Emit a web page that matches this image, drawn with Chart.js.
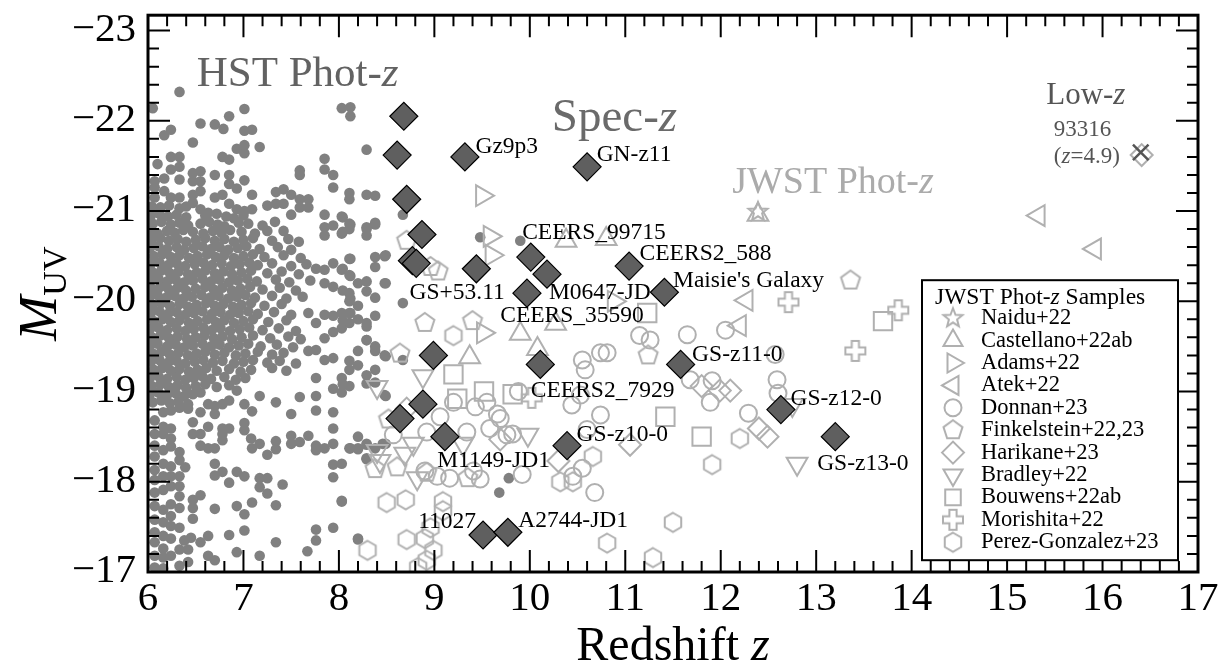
<!DOCTYPE html>
<html>
<head>
<meta charset="utf-8">
<script src="https://cdn.jsdelivr.net/npm/chart.js@4.4.0/dist/chart.umd.min.js"></script>
<style>
  html, body { margin: 0; padding: 0; background: #fff; }
  #wrap { width: 1226px; height: 670px; }
</style>
</head>
<body>
<div id="wrap"><canvas id="muvChart" width="1226" height="670"></canvas></div>
<script>
// ---------- axis ticks ----------
const xTicks = [6, 7, 8, 9, 10, 11, 12, 13, 14, 15, 16, 17];
const yTicks = [-23, -22, -21, -20, -19, -18, -17];

// ---------- HST photometric-z (grey dots) ----------
const hstPhotz = [
  [6.33,-22.32],[6.05,-22.14],[7.01,-22.13],[6.85,-22.05],[8.03,-22.14],[8.12,-22.15],[8.12,-22.05],[6.55,-21.97],[6.70,-21.96],
  [6.79,-21.91],[6.24,-21.90],[6.17,-21.84],[7.01,-21.89],[7.09,-21.90],[6.47,-21.76],[7.17,-21.71],[6.93,-21.69],[7.01,-21.73],
  [7.01,-21.64],[8.29,-21.68],[6.78,-21.60],[6.85,-21.57],[6.24,-21.60],[6.33,-21.60],[6.10,-21.52],[6.33,-21.49],[6.24,-21.46],
  [7.85,-21.58],[7.85,-21.46],[7.94,-21.40],[7.94,-21.26],[7.59,-21.45],[7.59,-21.40],[6.47,-21.42],[6.55,-21.44],[6.70,-21.40],
  [6.85,-21.40],[6.47,-21.33],[6.55,-21.33],[7.01,-21.34],[6.17,-21.36],[6.07,-21.33],[6.33,-21.35],[6.85,-21.30],[6.93,-21.25],
  [6.07,-21.26],[6.17,-21.22],[6.47,-21.18],[6.55,-21.22],[6.78,-21.18],[6.70,-21.15],[7.09,-21.18],[6.24,-21.15],[6.33,-21.15],
  [6.07,-21.15],[7.34,-21.21],[7.42,-21.24],[7.50,-21.18],[7.59,-21.13],[7.68,-21.13],[7.59,-21.04],[7.68,-21.04],[8.11,-21.20],
  [8.11,-21.13],[8.29,-21.18],[8.38,-21.17],[6.47,-21.09],[6.55,-21.02],[6.63,-20.98],[6.85,-21.08],[6.93,-21.02],[7.01,-21.00],
  [7.09,-21.02],[7.25,-21.06],[7.34,-21.08],[7.42,-21.08],[7.50,-20.96],[7.85,-20.96],[8.03,-20.94],[8.38,-20.87],[8.11,-20.86],
  [8.11,-20.80],[8.29,-20.82],[8.29,-20.73],[7.85,-20.82],[7.94,-20.84],[7.85,-20.73],[8.03,-20.75],[6.13,-21.04],[6.22,-21.06],
  [6.33,-21.03],[6.40,-21.05],[6.04,-21.05],
  [8.38,-20.49],[8.49,-20.51],[8.38,-20.38],[8.11,-20.47],[7.94,-20.42],[7.85,-20.35],[7.76,-20.36],[8.03,-20.35],[8.11,-20.29],
  [8.20,-20.20],[8.29,-20.11],[8.38,-20.04],[8.11,-20.09],[8.11,-20.00],[8.49,-20.20],[7.85,-20.20],[7.94,-20.16],[7.85,-19.85],
  [7.94,-19.84],[8.03,-19.87],[8.11,-19.87],[8.11,-19.76],[8.20,-19.80],[8.29,-19.76],[8.38,-19.84],[7.76,-19.76],
  [8.04,-20.93],[8.12,-20.85],[8.04,-20.77],[8.29,-20.80],[8.38,-20.85],[8.48,-20.50],[8.12,-20.47],[8.04,-20.36],[8.12,-20.28],
  [8.29,-20.22],[8.48,-20.20],[8.04,-20.12],[8.12,-20.03],[8.20,-19.95],[8.12,-19.87],[8.04,-19.79],[8.67,-19.98],[8.29,-19.57],
  [8.38,-19.45],[8.48,-19.40],[8.20,-19.29],[8.29,-19.18],[8.04,-19.08],[8.38,-19.10],[8.48,-18.96],[8.67,-20.96],[8.67,-19.35],
  [9.48,-20.71],[9.90,-20.67],[9.78,-18.04],[9.68,-17.88],[8.20,-17.37],[8.03,-17.79],[8.12,-18.37],[8.20,-18.37],[8.29,-18.41],
  [8.46,-18.42],[8.29,-18.25],
  // dense core
  [6.03,-20.95],[6.12,-20.97],[6.21,-20.94],[6.30,-20.96],[6.40,-20.93],[6.60,-20.95],[6.72,-20.97],[6.82,-20.94],[6.90,-20.92],[7.00,-20.95],
  [6.05,-20.86],[6.14,-20.88],[6.24,-20.85],[6.33,-20.87],[6.42,-20.84],[6.55,-20.86],[6.64,-20.88],[6.73,-20.85],[6.80,-20.83],[6.95,-20.87],[7.05,-20.86],[7.20,-20.84],[7.33,-20.88],
  [6.02,-20.77],[6.10,-20.75],[6.20,-20.78],[6.28,-20.76],[6.37,-20.79],[6.47,-20.77],[6.58,-20.75],[6.68,-20.78],[6.77,-20.76],[6.86,-20.79],[6.98,-20.77],[7.12,-20.75],[7.25,-20.78],[7.42,-20.78],
  [6.04,-20.68],[6.13,-20.70],[6.22,-20.67],[6.31,-20.69],[6.40,-20.66],[6.50,-20.68],[6.60,-20.70],[6.70,-20.67],[6.80,-20.69],[6.90,-20.66],[7.00,-20.68],[7.10,-20.70],[7.30,-20.67],[7.47,-20.69],[7.58,-20.66],
  [6.02,-20.59],[6.11,-20.61],[6.20,-20.58],[6.30,-20.60],[6.38,-20.57],[6.48,-20.59],[6.57,-20.61],[6.66,-20.58],[6.75,-20.60],[6.84,-20.57],[6.94,-20.59],[7.03,-20.61],[7.17,-20.58],[7.36,-20.60],[7.50,-20.57],
  [6.06,-20.50],[6.15,-20.52],[6.24,-20.49],[6.33,-20.51],[6.43,-20.48],[6.52,-20.50],[6.62,-20.52],[6.71,-20.49],[6.80,-20.51],[6.90,-20.48],[7.00,-20.50],[7.10,-20.52],[7.22,-20.49],[7.42,-20.51],[7.60,-20.48],
  [6.03,-20.41],[6.12,-20.43],[6.21,-20.40],[6.30,-20.42],[6.39,-20.39],[6.49,-20.41],[6.58,-20.43],[6.67,-20.40],[6.77,-20.42],[6.87,-20.39],[6.96,-20.41],[7.06,-20.43],[7.15,-20.40],[7.30,-20.42],[7.50,-20.39],[7.66,-20.41],
  [6.05,-20.32],[6.14,-20.34],[6.23,-20.31],[6.32,-20.33],[6.42,-20.30],[6.51,-20.32],[6.60,-20.34],[6.70,-20.31],[6.79,-20.33],[6.88,-20.30],[6.98,-20.32],[7.08,-20.34],[7.25,-20.31],[7.40,-20.33],[7.58,-20.30],
  [6.02,-20.23],[6.11,-20.25],[6.20,-20.22],[6.29,-20.24],[6.38,-20.21],[6.47,-20.23],[6.57,-20.25],[6.66,-20.22],[6.75,-20.24],[6.85,-20.21],[6.94,-20.23],[7.04,-20.25],[7.14,-20.22],[7.34,-20.24],[7.48,-20.21],[7.70,-20.23],
  [6.04,-20.14],[6.13,-20.16],[6.22,-20.13],[6.31,-20.15],[6.40,-20.12],[6.50,-20.14],[6.60,-20.16],[6.69,-20.13],[6.78,-20.15],[6.88,-20.12],[6.97,-20.14],[7.07,-20.16],[7.20,-20.13],[7.38,-20.15],[7.55,-20.12],
  [6.02,-20.05],[6.10,-20.07],[6.19,-20.04],[6.28,-20.06],[6.37,-20.03],[6.46,-20.05],[6.56,-20.07],[6.65,-20.04],[6.74,-20.06],[6.84,-20.03],[6.93,-20.05],[7.02,-20.07],[7.12,-20.04],[7.30,-20.06],[7.45,-20.03],[7.62,-20.05],
  [6.05,-19.96],[6.14,-19.98],[6.23,-19.95],[6.33,-19.97],[6.42,-19.94],[6.51,-19.96],[6.61,-19.98],[6.70,-19.95],[6.79,-19.97],[6.89,-19.94],[6.98,-19.96],[7.08,-19.98],[7.22,-19.95],[7.40,-19.97],
  [6.03,-19.87],[6.12,-19.89],[6.21,-19.86],[6.30,-19.88],[6.39,-19.85],[6.48,-19.87],[6.57,-19.89],[6.67,-19.86],[6.76,-19.88],[6.86,-19.85],[6.95,-19.87],[7.05,-19.89],[7.15,-19.86],[7.32,-19.88],[7.50,-19.85],[7.68,-19.87],
  [6.06,-19.78],[6.15,-19.80],[6.24,-19.77],[6.33,-19.79],[6.43,-19.76],[6.52,-19.78],[6.62,-19.80],[6.71,-19.77],[6.80,-19.79],[6.90,-19.76],[7.00,-19.78],[7.10,-19.80],[7.26,-19.77],[7.45,-19.79],
  [6.02,-19.69],[6.11,-19.71],[6.20,-19.68],[6.30,-19.70],[6.39,-19.67],[6.48,-19.69],[6.58,-19.71],[6.67,-19.68],[6.76,-19.70],[6.86,-19.67],[6.96,-19.69],[7.06,-19.71],[7.20,-19.68],[7.37,-19.70],[7.55,-19.67],
  [6.04,-19.60],[6.13,-19.62],[6.22,-19.59],[6.31,-19.61],[6.41,-19.58],[6.50,-19.60],[6.59,-19.62],[6.69,-19.59],[6.78,-19.61],[6.88,-19.58],[6.98,-19.60],[7.10,-19.62],[7.28,-19.59],[7.47,-19.61],[7.60,-19.58],
  [6.02,-19.51],[6.10,-19.53],[6.20,-19.50],[6.29,-19.52],[6.38,-19.49],[6.47,-19.51],[6.57,-19.53],[6.66,-19.50],[6.75,-19.52],[6.85,-19.49],[6.95,-19.51],[7.05,-19.53],[7.18,-19.50],[7.35,-19.52],[7.52,-19.49],
  [6.05,-19.42],[6.14,-19.44],[6.23,-19.41],[6.32,-19.43],[6.42,-19.40],[6.51,-19.42],[6.60,-19.44],[6.70,-19.41],[6.80,-19.43],[6.92,-19.40],[7.02,-19.42],[7.15,-19.44],[7.30,-19.41],[7.42,-19.43],
  [6.03,-19.33],[6.12,-19.35],[6.21,-19.32],[6.30,-19.34],[6.39,-19.31],[6.49,-19.33],[6.58,-19.35],[6.68,-19.32],[6.78,-19.34],[6.90,-19.31],[7.00,-19.33],[7.10,-19.35],[7.25,-19.32],[7.38,-19.34],[7.55,-19.31],
  [6.06,-19.24],[6.15,-19.26],[6.24,-19.23],[6.33,-19.25],[6.43,-19.22],[6.52,-19.24],[6.61,-19.26],[6.72,-19.23],[6.85,-19.25],[6.97,-19.22],[7.08,-19.24],[7.30,-19.26],[7.45,-19.23],
  [6.02,-19.15],[6.11,-19.17],[6.20,-19.14],[6.30,-19.16],[6.39,-19.13],[6.48,-19.15],[6.57,-19.17],[6.66,-19.14],[6.80,-19.16],[6.92,-19.13],[7.02,-19.15],
  [6.04,-19.06],[6.13,-19.08],[6.22,-19.05],[6.31,-19.07],[6.40,-19.04],[6.50,-19.06],[6.60,-19.08],[6.72,-19.05],[6.85,-19.07],
  [6.02,-18.97],[6.11,-18.99],[6.20,-18.96],[6.29,-18.98],[6.38,-18.95],[6.47,-18.97],[6.55,-18.99],
  [6.05,-18.88],[6.14,-18.90],[6.23,-18.87],[6.32,-18.89],[6.42,-18.86],
  // lower half
  [6.93,-19.01],[7.17,-18.95],[7.34,-18.88],[7.59,-18.94],[7.76,-18.95],[7.76,-19.15],[7.94,-19.03],[8.03,-18.99],[8.03,-19.15],
  [8.11,-19.06],[8.11,-19.24],[8.11,-19.34],[8.20,-19.45],[8.29,-19.57],[8.38,-19.50],[8.49,-19.39],[8.38,-19.24],[8.49,-18.95],
  [8.29,-19.09],[7.94,-19.37],[7.85,-19.35],[7.76,-19.46],[7.68,-19.45],[7.85,-19.59],[7.94,-19.66],[8.03,-19.70],[8.29,-19.72],
  [7.01,-18.86],[7.09,-18.78],[7.01,-18.65],[7.01,-18.57],[7.08,-18.48],[7.09,-18.37],[7.17,-18.42],[7.25,-18.30],[7.34,-18.36],
  [7.34,-18.45],[7.50,-18.75],[7.50,-18.51],[7.50,-18.42],[7.59,-18.44],[7.68,-18.51],[7.76,-18.40],[7.76,-18.35],[7.85,-18.37],
  [7.94,-18.42],[7.94,-18.59],[7.94,-18.77],[7.76,-18.79],[7.94,-18.19],[8.03,-18.20],[7.94,-18.05],[8.11,-18.37],[8.20,-18.36],
  [8.20,-18.50],[8.29,-18.42],[8.29,-18.26],[8.38,-18.37],[8.49,-18.42],
  [6.55,-18.77],[6.47,-18.66],[6.47,-18.53],[6.55,-18.53],[6.63,-18.61],[6.55,-18.40],[6.63,-18.37],[6.70,-18.37],[6.78,-18.46],
  [6.78,-18.53],[6.78,-18.59],[6.85,-18.59],[6.78,-18.86],[6.85,-18.90],[6.70,-18.84],[6.63,-18.86],[6.70,-18.75],
  [6.70,-18.20],[6.70,-18.07],[6.78,-18.11],[6.85,-17.99],[6.93,-18.11],[7.01,-18.06],[7.17,-18.04],[7.25,-18.04],[7.17,-17.94],
  [7.25,-17.87],[7.41,-17.97],[7.34,-17.74],[7.09,-17.77],[6.93,-17.73],[7.01,-17.64],[6.85,-17.41],[7.01,-17.46],[6.70,-17.70],
  [6.55,-17.85],[6.47,-17.80],[6.47,-17.71],[6.47,-17.59],[6.63,-17.40],[6.55,-17.33],[6.63,-17.18],[6.70,-17.13],[6.93,-17.22],
  [7.17,-17.18],[7.34,-17.33],[7.67,-17.23],[7.76,-17.35],[7.76,-17.47],[7.94,-17.49],[8.03,-17.78],[8.20,-17.36],
  [6.33,-17.07],[6.24,-17.18],[6.33,-17.25],[6.42,-17.25],[6.38,-17.35],[6.45,-17.38],[6.33,-17.49],[6.24,-17.51],[6.16,-17.55],
  [6.24,-17.62],[6.33,-17.71],[6.24,-17.75],[6.16,-17.69],[6.33,-17.84],[6.33,-17.95],[6.33,-18.06],[6.24,-17.95],[6.24,-18.17],
  [6.33,-18.24],[6.39,-18.16],[6.33,-18.33],[6.24,-18.39],[6.24,-18.48],[6.16,-18.53],[6.07,-18.53],[6.16,-18.61],[6.07,-18.68],
  [6.24,-18.59],[6.16,-18.77],[6.24,-18.79],[6.33,-18.82],[6.42,-18.81],[6.07,-18.28],[6.07,-18.13],[6.07,-18.02],[6.07,-17.88],
  [6.07,-17.73],[6.07,-17.58],[6.07,-17.44],[6.07,-17.33],[6.16,-17.40],[6.16,-17.26],[6.16,-17.16],[6.07,-17.18],[6.16,-17.04],
  [6.42,-17.11],[6.24,-17.37],[6.16,-18.35],[6.16,-18.20],[6.16,-18.06],[6.16,-17.91],[6.24,-18.06],[6.07,-18.40],[6.07,-17.05]
];

// ---------- spectroscopic-z (dark diamonds) ----------
const specPoints = [
  [8.68,-22.05],[8.61,-21.62],[8.71,-21.13],[8.87,-20.74],[8.77,-20.45],[8.81,-20.42],[9.44,-20.36],
  [9.32,-21.60],[10.60,-21.49],[10.01,-20.49],[10.18,-20.30],[9.97,-20.09],[11.04,-20.39],[11.41,-20.10],
  [8.99,-19.40],[10.11,-19.30],[11.58,-19.30],[8.88,-18.86],[8.64,-18.70],[9.11,-18.50],[10.39,-18.40],
  [12.63,-18.80],[13.20,-18.50],[9.51,-17.41],[9.77,-17.44]
];
const specLabels = [
  ['Gz9p3', 9.43, -21.71], ['GN-z11', 10.70, -21.62], ['CEERS_99715', 9.92, -20.76],
  ['CEERS2_588', 11.15, -20.53], ["Maisie's Galaxy", 11.50, -20.23], ['M0647-JD', 10.20, -20.09],
  ['GS+53.11', 8.74, -20.09], ['CEERS_35590', 9.69, -19.84], ['GS-z11-0', 11.70, -19.41],
  ['CEERS2_7929', 10.01, -19.01], ['GS-z12-0', 12.73, -18.92], ['GS-z10-0', 10.49, -18.52],
  ['M1149-JD1', 9.03, -18.23], ['GS-z13-0', 13.01, -18.20], ['11027', 8.83, -17.56], ['A2744-JD1', 9.88, -17.57]
];

// ---------- low-z interloper ----------
const lowzPoint = [[16.40, -21.65]];

// ---------- JWST photometric-z samples ----------
const naidu = [[12.39,-20.99]];
const castellano = [[12.39,-20.96],[10.38,-20.67],[10.80,-20.69],[9.90,-19.64],[10.27,-19.75],[10.08,-19.47],[9.37,-19.38]];
const adams = [[9.50,-21.17],[9.58,-20.72],[9.60,-20.51],[9.51,-19.65],[10.88,-20.00]];
const atek = [[12.27,-20.01],[12.20,-19.73],[15.33,-20.95],[15.92,-20.58]];
const donnan = [
  [11.15,-19.62],[11.26,-19.57],[11.65,-19.63],[12.05,-19.68],[9.20,-18.88],[9.55,-18.88],[9.88,-19.00],[9.66,-18.75],
  [9.06,-18.72],[8.57,-18.52],[8.92,-18.55],[9.34,-18.55],[9.76,-18.52],[9.03,-18.06],[9.16,-18.04],[9.48,-18.03],
  [9.43,-18.83],[9.69,-18.70],[9.82,-18.53],[9.58,-18.59],[10.55,-19.35],[10.74,-19.43],[10.58,-19.24],[10.81,-19.43],
  [10.53,-18.96],[10.44,-18.85],[10.74,-18.74],[10.60,-18.58],[10.68,-17.88],[10.55,-18.15],[11.68,-19.13],[11.91,-19.12],
  [11.89,-18.88],[12.29,-18.76],[12.59,-19.13],[12.57,-19.41],[12.60,-18.98],[8.90,-18.12],[9.41,-18.12],[9.92,-18.08],[10.45,-18.06]
];
const finkelstein = [
  [8.71,-20.67],[8.96,-20.38],[9.04,-20.33],[8.90,-19.76],[9.40,-19.78],[8.64,-19.42],[8.52,-18.69],
  [8.38,-18.14],[8.61,-18.16],[8.92,-18.10],[9.35,-18.04],[11.24,-19.40],[13.36,-20.23]
];
const harikane = [[16.41,-21.62],[8.71,-18.81],[11.05,-18.41],[11.99,-19.01],[12.10,-19.01],[12.40,-18.59],[12.49,-18.50],[10.30,-18.23],[9.69,-18.47],[11.80,-19.06]];
const bradley = [[8.88,-19.17],[8.40,-19.05],[9.98,-18.52],[8.43,-18.23],[8.69,-18.31],[8.82,-18.04],[8.78,-18.42],[9.30,-18.42],[12.80,-18.20],[8.40,-18.34],[12.75,-18.85]];
const bouwens = [[9.20,-19.19],[9.24,-18.92],[9.82,-18.97],[11.23,-19.87],[11.42,-18.72],[11.80,-18.50],[13.70,-19.78],[9.52,-19.00]];
const morishita = [[10.02,-18.93],[12.71,-19.99],[13.41,-19.45],[13.86,-19.90]];
const perezGonzalez = [
  [9.20,-19.62],[8.50,-17.77],[8.70,-17.80],[9.09,-17.78],[9.09,-17.68],[8.71,-17.36],[8.90,-17.37],[8.99,-17.24],
  [8.30,-17.24],[8.92,-17.13],[8.83,-17.05],[8.96,-17.49],[10.66,-18.28],[10.32,-18.00],[10.45,-18.00],[10.81,-17.32],
  [11.50,-17.55],[11.29,-17.16],[11.91,-18.19],[12.20,-18.48]
];

// ---------- styles ----------
const FONT = '"Liberation Serif", "DejaVu Serif", "Times New Roman", serif';
const JWST_GREY = '#b0b0b0';

const makeMarker = (size, draw) => {
  const c = document.createElement('canvas');
  c.width = size; c.height = size;
  const g = c.getContext('2d');
  g.strokeStyle = JWST_GREY;
  g.lineWidth = 2;
  g.lineJoin = 'miter';
  g.translate(size / 2, size / 2);
  g.beginPath();
  draw(g);
  g.closePath();
  g.stroke();
  return c;
};
const polygon = (g, n, r, start) => {
  for (let i = 0; i < n; i++) {
    const a = start + i * 2 * Math.PI / n;
    const px = r * Math.cos(a), py = r * Math.sin(a);
    if (i === 0) g.moveTo(px, py); else g.lineTo(px, py);
  }
};
const starImg = makeMarker(26, g => {
  for (let i = 0; i < 10; i++) {
    const r = i % 2 === 0 ? 10 : 4.3;
    const a = -Math.PI / 2 + i * Math.PI / 5;
    if (i === 0) g.moveTo(r * Math.cos(a), r * Math.sin(a)); else g.lineTo(r * Math.cos(a), r * Math.sin(a));
  }
});
const pentagonImg = makeMarker(26, g => polygon(g, 5, 10, -Math.PI / 2));
const hexagonImg = makeMarker(24, g => polygon(g, 6, 9.5, -Math.PI / 2));
const plusImg = makeMarker(26, g => {
  const a = 3.6, b = 10;
  g.moveTo(-a, -b); g.lineTo(a, -b); g.lineTo(a, -a); g.lineTo(b, -a); g.lineTo(b, a); g.lineTo(a, a);
  g.lineTo(a, b); g.lineTo(-a, b); g.lineTo(-a, a); g.lineTo(-b, a); g.lineTo(-b, -a); g.lineTo(-a, -a);
});

const jwstSets = [
  { label: 'Naidu+22', data: naidu, style: starImg, radius: 10, rot: 0 },
  { label: 'Castellano+22ab', data: castellano, style: 'triangle', radius: 12, rot: 0 },
  { label: 'Adams+22', data: adams, style: 'triangle', radius: 12, rot: 90 },
  { label: 'Atek+22', data: atek, style: 'triangle', radius: 12, rot: -90 },
  { label: 'Donnan+23', data: donnan, style: 'circle', radius: 8.5, rot: 0 },
  { label: 'Finkelstein+22,23', data: finkelstein, style: pentagonImg, radius: 10, rot: 0 },
  { label: 'Harikane+23', data: harikane, style: 'rectRot', radius: 11, rot: 0 },
  { label: 'Bradley+22', data: bradley, style: 'triangle', radius: 12, rot: 180 },
  { label: 'Bouwens+22ab', data: bouwens, style: 'rect', radius: 13, rot: 0 },
  { label: 'Morishita+22', data: morishita, style: plusImg, radius: 10, rot: 0 },
  { label: 'Perez-Gonzalez+23', data: perezGonzalez, style: hexagonImg, radius: 10, rot: 0 }
];

const toXY = arr => arr.map(p => ({ x: p[0], y: p[1] }));

const datasets = [
  {
    label: 'Spec-z', data: toXY(specPoints), pointStyle: 'rectRot', pointRadius: 14,
    backgroundColor: '#5f5f5f', borderColor: '#000', borderWidth: 1.2
  },
  {
    label: 'Low-z', data: toXY(lowzPoint), pointStyle: 'crossRot', pointRadius: 11,
    borderColor: '#555', borderWidth: 2.5, backgroundColor: '#555'
  },
  ...jwstSets.map(s => ({
    label: s.label, data: toXY(s.data), pointStyle: s.style, pointRadius: s.radius, pointRotation: s.rot,
    backgroundColor: 'rgba(0,0,0,0)', borderColor: JWST_GREY, borderWidth: 2
  })),
  {
    label: 'HST Phot-z', data: toXY(hstPhotz), pointStyle: 'circle', pointRadius: 5.3,
    backgroundColor: '#808080', borderWidth: 0
  }
];

// ---------- text helpers ----------
const richText = (ctx, parts, x, y, align) => {
  let total = 0;
  parts.forEach(p => { ctx.font = `${p.style || ''} ${p.size}px ${FONT}`; total += ctx.measureText(p.t).width; });
  let cx = align === 'center' ? x - total / 2 : (align === 'right' ? x - total : x);
  ctx.textAlign = 'left';
  parts.forEach(p => {
    ctx.font = `${p.style || ''} ${p.size}px ${FONT}`;
    ctx.fillText(p.t, cx, y + (p.dy || 0));
    cx += ctx.measureText(p.t).width;
  });
};

const annotationsPlugin = {
  id: 'annotations',
  afterDatasetsDraw(chart) {
    const { ctx, chartArea: a, scales: { x, y } } = chart;
    ctx.save();
    ctx.textBaseline = 'alphabetic';

    // region titles
    ctx.fillStyle = '#626262';
    richText(ctx, [{ t: 'HST Phot-', size: 43 }, { t: 'z', size: 43, style: 'italic' }], x.getPixelForValue(6.51), y.getPixelForValue(-22.39), 'left');
    ctx.fillStyle = '#6a6a6a';
    richText(ctx, [{ t: 'Spec-', size: 47 }, { t: 'z', size: 47, style: 'italic' }], x.getPixelForValue(10.23), y.getPixelForValue(-21.89), 'left');
    ctx.fillStyle = '#ababab';
    richText(ctx, [{ t: 'JWST Phot-', size: 38 }, { t: 'z', size: 38, style: 'italic' }], x.getPixelForValue(12.12), y.getPixelForValue(-21.20), 'left');
    ctx.fillStyle = '#555';
    richText(ctx, [{ t: 'Low-', size: 31 }, { t: 'z', size: 31, style: 'italic' }], x.getPixelForValue(15.41), y.getPixelForValue(-22.19), 'left');
    richText(ctx, [{ t: '93316', size: 23 }], x.getPixelForValue(15.49), y.getPixelForValue(-21.83), 'left');
    richText(ctx, [{ t: '(', size: 23 }, { t: 'z', size: 23, style: 'italic' }, { t: '=4.9)', size: 23 }], x.getPixelForValue(15.49), y.getPixelForValue(-21.53), 'left');

    // spec-z labels
    ctx.fillStyle = '#000';
    ctx.textBaseline = 'middle';
    ctx.font = `23.5px ${FONT}`;
    ctx.textAlign = 'left';
    specLabels.forEach(l => ctx.fillText(l[0], x.getPixelForValue(l[1]), y.getPixelForValue(l[2])));

    // frame
    ctx.strokeStyle = '#000';
    ctx.lineWidth = 3;
    ctx.strokeRect(a.left, a.top, a.right - a.left, a.bottom - a.top);

    // ticks on all sides
    ctx.lineWidth = 2;
    ctx.beginPath();
    for (let i = 0; i <= 55; i++) {
      const v = 6 + i * 0.2;
      const len = i % 5 === 0 ? 22 : 11;
      const px = x.getPixelForValue(v);
      ctx.moveTo(px, a.bottom); ctx.lineTo(px, a.bottom - len);
      ctx.moveTo(px, a.top); ctx.lineTo(px, a.top + len);
    }
    for (let i = 0; i <= 30; i++) {
      const v = -17 - i * 0.2;
      const len = i % 5 === 0 ? 22 : 11;
      const py = y.getPixelForValue(v);
      ctx.moveTo(a.left, py); ctx.lineTo(a.left + len, py);
      ctx.moveTo(a.right, py); ctx.lineTo(a.right - len, py);
    }
    ctx.stroke();

    // tick labels
    ctx.textBaseline = 'alphabetic';
    ctx.font = `41px ${FONT}`;
    ctx.textAlign = 'center';
    xTicks.forEach(v => ctx.fillText(String(v), x.getPixelForValue(v), a.bottom + 38));
    ctx.textAlign = 'right';
    yTicks.forEach(v => ctx.fillText('\u2212' + Math.abs(v), a.left - 12, y.getPixelForValue(v) + 10));

    // axis titles
    richText(ctx, [{ t: 'Redshift ', size: 48 }, { t: 'z', size: 48, style: 'italic' }], (a.left + a.right) / 2, 660, 'center');
    ctx.save();
    ctx.translate(56, (a.top + a.bottom) / 2);
    ctx.rotate(-Math.PI / 2);
    richText(ctx, [{ t: 'M', size: 54, style: 'italic' }, { t: 'UV', size: 34, dy: 10 }], 0, 0, 'center');
    ctx.restore();

    // legend
    const lx = a.right - 276, ly = a.top + 265, lw = 256, lh = 280;
    ctx.fillStyle = '#fff';
    ctx.fillRect(lx, ly, lw, lh);
    ctx.strokeStyle = '#000';
    ctx.lineWidth = 2;
    ctx.strokeRect(lx, ly, lw, lh);
    ctx.fillStyle = '#000';
    ctx.textBaseline = 'middle';
    richText(ctx, [{ t: 'JWST Phot-', size: 23.5 }, { t: 'z', size: 23.5, style: 'italic' }, { t: ' Samples', size: 23.5 }], lx + 13, ly + 18, 'left');
    jwstSets.forEach((s, i) => {
      const ey = ly + 38 + i * 22.4;
      ctx.save();
      ctx.strokeStyle = JWST_GREY;
      ctx.fillStyle = 'rgba(0,0,0,0)';
      ctx.lineWidth = 2;
      Chart.helpers.drawPoint(ctx, { pointStyle: s.style, radius: Math.min(s.radius, 11), rotation: s.rot, borderWidth: 2 }, lx + 31, ey);
      ctx.restore();
      ctx.fillStyle = '#000';
      ctx.font = `22.5px ${FONT}`;
      ctx.textAlign = 'left';
      ctx.fillText(s.label, lx + 59, ey);
    });
    ctx.restore();
  }
};

new Chart(document.getElementById('muvChart'), {
  type: 'scatter',
  data: { datasets },
  options: {
    responsive: false,
    animation: false,
    devicePixelRatio: 1,
    events: [],
    layout: { padding: { top: 8, right: 28, left: 0, bottom: 0 } },
    plugins: { legend: { display: false }, tooltip: { enabled: false } },
    scales: {
      x: {
        type: 'linear', min: 6, max: 17,
        grid: { display: false, drawTicks: false }, border: { display: false }, ticks: { display: false },
        afterBuildTicks: s => { s.ticks = xTicks.map(v => ({ value: v })); },
        afterFit: s => { s.height = 98; }
      },
      y: {
        type: 'linear', reverse: true, min: -23.17, max: -17,
        grid: { display: false, drawTicks: false }, border: { display: false }, ticks: { display: false },
        afterBuildTicks: s => { s.ticks = yTicks.map(v => ({ value: v })); },
        afterFit: s => { s.width = 148; }
      }
    }
  },
  plugins: [annotationsPlugin]
});
</script>
</body>
</html>
